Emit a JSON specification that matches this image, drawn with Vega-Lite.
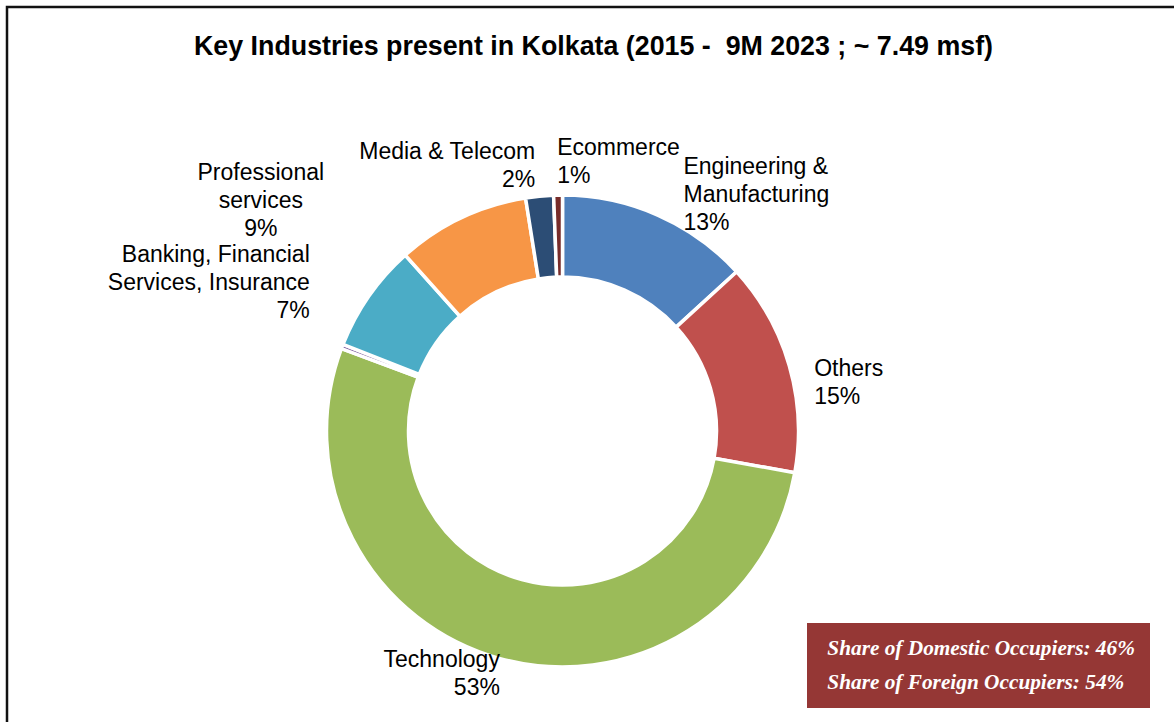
{
  "$schema": "https://vega.github.io/schema/vega-lite/v6.json",
  "autosize": {"type": "none"},
  "padding": {"left": 7, "top": 7, "right": 0, "bottom": 0},
  "width": 1167,
  "height": 715,
  "background": "white",
  "title": {
    "text": "Key Industries present in Kolkata (2015 - \u00a09M 2023 ; ~ 7.49 msf)",
    "font": "Liberation Sans",
    "fontSize": 26.8,
    "fontWeight": "bold",
    "color": "#000000",
    "anchor": "middle",
    "frame": "group",
    "baseline": "alphabetic",
    "offset": -76,
    "dx": 3
  },
  "data": {
    "values": [
      {"order": 1, "category": "Engineering & Manufacturing", "share": 13.2, "label": "Engineering &\nManufacturing\n13%"},
      {"order": 2, "category": "Others", "share": 14.6, "label": "Others\n15%"},
      {"order": 3, "category": "Technology", "share": 52.8, "label": "Technology\n53%"},
      {"order": 4, "category": "Unlabelled", "share": 0.3, "label": ""},
      {"order": 5, "category": "Banking, Financial Services, Insurance", "share": 7.4, "label": "Banking, Financial\nServices, Insurance\n7%"},
      {"order": 6, "category": "Professional services", "share": 9.1, "label": "Professional\nservices\n9%"},
      {"order": 7, "category": "Media & Telecom", "share": 1.9, "label": "Media & Telecom\n2%"},
      {"order": 8, "category": "Ecommerce", "share": 0.6, "label": "Ecommerce\n1%"}
    ]
  },
  "layer": [
    {
      "data": {"values": [{}]},
      "mark": {"type": "rect", "fill": null, "fillOpacity": 0, "stroke": "#111111", "strokeWidth": 2.5, "strokeDash": [1167, 1882, 715]},
      "encoding": {}
    },
    {
      "mark": {
        "type": "arc",
        "x": 555.5,
        "y": 424,
        "outerRadius": 236,
        "innerRadius": 154,
        "stroke": "#ffffff",
        "strokeWidth": 3.5
      },
      "encoding": {
        "theta": {"field": "share", "type": "quantitative", "stack": true},
        "order": {"field": "order", "type": "quantitative"},
        "color": {
          "field": "category",
          "type": "nominal",
          "legend": null,
          "scale": {
            "domain": ["Engineering & Manufacturing", "Others", "Technology", "Unlabelled", "Banking, Financial Services, Insurance", "Professional services", "Media & Telecom", "Ecommerce"],
            "range": ["#4F81BD", "#C0504D", "#9BBB59", "#8064A2", "#4BACC6", "#F79646", "#2C4D75", "#772C2A"]
          }
        }
      }
    },
    {
      "mark": {
        "type": "text",
        "x": 555.5,
        "y": 424,
        "font": "Liberation Sans",
        "fontSize": 23,
        "lineHeight": 28,
        "lineBreak": "\n",
        "color": "#000000",
        "radius": {"expr": "datum.category === 'Engineering & Manufacturing' ? 300 : datum.category === 'Others' ? 262 : datum.category === 'Technology' ? 237 : datum.category === 'Banking, Financial Services, Insurance' ? 308 : datum.category === 'Professional services' ? 286 : datum.category === 'Media & Telecom' ? 280 : 283"},
        "align": {"expr": "datum.category === 'Engineering & Manufacturing' || datum.category === 'Others' || datum.category === 'Ecommerce' ? 'left' : datum.category === 'Professional services' ? 'center' : 'right'"},
        "baseline": {"expr": "datum.category === 'Engineering & Manufacturing' || datum.category === 'Others' ? 'top' : 'middle'"},
        "dx": {"expr": "datum.category === 'Professional services' ? -179 : 0"}
      },
      "encoding": {
        "theta": {"field": "share", "type": "quantitative", "stack": true},
        "order": {"field": "order", "type": "quantitative"},
        "text": {"field": "label", "type": "nominal"}
      }
    },
    {
      "data": {
        "values": [
          {"occupier": "Share of Domestic Occupiers: 46%"},
          {"occupier": "Share of Foreign Occupiers: 54%"}
        ]
      },
      "mark": {"type": "point", "opacity": 0, "size": 0},
      "encoding": {
        "shape": {
          "field": "occupier",
          "type": "nominal",
          "title": null,
          "legend": {
            "orient": "none",
            "legendX": 800,
            "legendY": 616,
            "fillColor": "#953735",
            "strokeColor": null,
            "padding": 15,
            "rowPadding": 12,
            "symbolSize": 0,
            "symbolOpacity": 0,
            "symbolStrokeWidth": 0,
            "labelOffset": -16,
            "labelFont": "Liberation Serif",
            "labelFontSize": 21.3,
            "labelFontStyle": "italic",
            "labelFontWeight": "bold",
            "labelColor": "#ffffff",
            "labelLimit": 500
          }
        }
      }
    }
  ]
}
